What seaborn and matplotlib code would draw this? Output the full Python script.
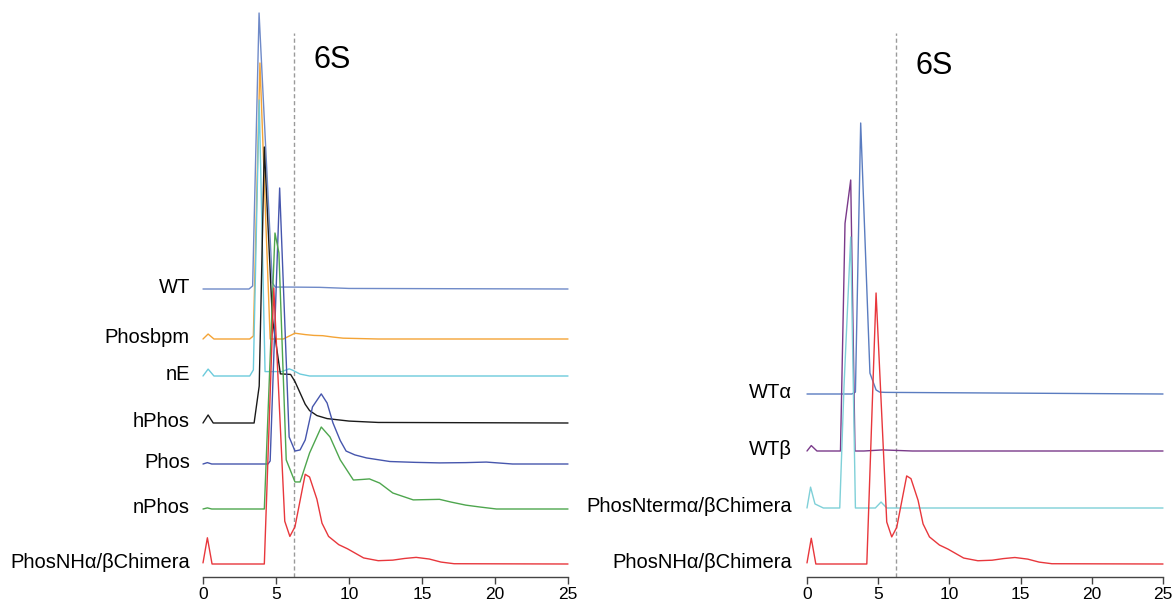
import numpy as np
import pandas as pd
import matplotlib
matplotlib.use("Agg")
import matplotlib.pyplot as plt
import seaborn as sns

# ---------------- data (normalised traces, peak = 1) ----------------
left_names = ["WT", "Phosbpm", "nE", "hPhos", "Phos", "nPhos", "PhosNHα/βChimera"]
right_names = ["WTα", "WTβ", "PhosNtermα/βChimera", "PhosNHα/βChimera"]

wt_x = [0, 3.15, 3.4, 3.84, 4.75, 4.95, 6, 8, 10, 25]
wt_y = [0, 0, 0.011, 1, 0.022, 0.007, 0.007, 0.006, 0.002, 0]

phosbpm_x = [0, 0.35, 0.75, 3.2, 3.45, 3.9, 4.6, 5.5, 6.3, 7.0, 7.6, 8.2, 8.9, 9.6, 12, 25]
phosbpm_y = [0, 0.018, 0, 0, 0.011, 1, 0, 0, 0.021, 0.016, 0.013, 0.012, 0.007, 0.003, 0, 0]

ne_x = [0, 0.35, 0.75, 3.2, 3.45, 3.85, 4.25, 4.6, 5.4, 5.9, 6.1, 6.65, 7.3, 25]
ne_y = [0, 0.025, 0, 0, 0.022, 1, 0.016, 0.016, 0.016, 0.026, 0.022, 0.007, 0, 0]

hphos_x = [0, 0.35, 0.7, 3.5, 3.85, 4.2, 4.75, 5.3, 6.0, 6.3, 6.65, 7.0, 7.3, 7.8,
           8.5, 10, 12, 25]
hphos_y = [0, 0.029, 0, 0, 0.134, 1, 0.38, 0.178, 0.176, 0.15, 0.109, 0.068, 0.045,
           0.027, 0.016, 0.007, 0.002, 0]

phos_x = [0, 0.3, 0.6, 4.45, 4.6, 5.25, 5.9, 6.3, 6.65, 7.0, 7.5, 8.1, 8.5, 8.9, 9.4,
          9.8, 10.4, 11.2, 12.8, 14.5, 16.2, 18.0, 19.4, 21.2, 25]
phos_y = [0, 0.005, 0, 0, 0.011, 1, 0.098, 0.047, 0.051, 0.087, 0.207, 0.254, 0.221,
          0.149, 0.085, 0.047, 0.033, 0.022, 0.009, 0.006, 0.004, 0.005, 0.007, 0, 0]

nphos_x = [0, 0.3, 0.6, 4.2, 4.93, 5.2, 5.7, 6.3, 6.65, 7.3, 8.1, 8.7, 9.4, 10.3, 10.9,
           11.4, 12.1, 13.0, 14.4, 15.3, 16.2, 17.0, 18.0, 19.0, 20.1, 25]
nphos_y = [0, 0.004, 0, 0, 1, 0.928, 0.178, 0.098, 0.098, 0.203, 0.297, 0.261, 0.178,
           0.105, 0.107, 0.109, 0.094, 0.058, 0.033, 0.034, 0.035, 0.025, 0.014, 0.007,
           0, 0]

chim_x = [0, 0.3, 0.62, 4.2, 4.85, 5.6, 5.95, 6.3, 7.0, 7.3, 7.8, 8.15, 8.6, 9.3, 9.9,
          11.0, 12.0, 13.0, 13.8, 14.6, 15.5, 16.3, 17.2, 25]
chim_y = [0.004, 0.095, 0, 0, 1, 0.155, 0.1, 0.135, 0.325, 0.315, 0.235, 0.148, 0.1,
          0.07, 0.055, 0.022, 0.012, 0.014, 0.02, 0.024, 0.018, 0.007, 0.001, 0]

wta_x = [0, 3.15, 3.4, 3.77, 4.42, 4.85, 5.1, 5.5, 25]
wta_y = [0, 0, 0.007, 1, 0.077, 0.015, 0.007, 0.006, 0]

wtb_x = [0, 0.3, 0.7, 2.35, 2.67, 3.07, 3.37, 4.0, 5.3, 7.4, 25]
wtb_y = [0, 0.02, 0, 0, 0.84, 1, 0, 0, 0.004, 0, 0]

nterm_x = [0, 0.25, 0.56, 1.15, 2.3, 2.6, 3.07, 3.4, 4.8, 5.2, 5.6, 25]
nterm_y = [0, 0.077, 0.015, 0, 0, 0.45, 1, 0, 0, 0.022, 0, 0]

ticks = [0, 5, 10, 15, 20, 25]
marker_6s = 6.25

# ---------------- style ----------------
sns.set_style("white")
plt.rcParams["font.family"] = ["Liberation Sans", "DejaVu Sans"]

W, H = 1174, 604
fig = plt.figure(figsize=(W / 100, H / 100), dpi=100)

def make_ax(x0px, x25px, bottom_px=577, top_px=5):
    upx = (x25px - x0px) / 25.0
    left = x0px - 0.3 * upx
    right = x25px + 0.3 * upx
    ax = fig.add_axes([left / W, (H - bottom_px) / H, (right - left) / W,
                       (bottom_px - top_px) / H])
    ax.set_xlim(-0.3, 25.3)
    ax.set_ylim(0, bottom_px - top_px)
    for s in ["top", "right", "left"]:
        ax.spines[s].set_visible(False)
    ax.spines["bottom"].set_bounds(0, 25)
    ax.spines["bottom"].set_color("#444444")
    ax.spines["bottom"].set_linewidth(1.0)
    ax.set_xticks(ticks)
    ax.set_xticklabels([str(t) for t in ticks])
    ax.tick_params(axis="x", direction="out", length=5, width=1.0, color="#444444",
                   labelsize=12.5, labelcolor="black", pad=2, bottom=True)
    ax.set_yticks([])
    ax.set_xlabel("")
    ax.set_ylabel("")
    return ax, upx

def draw(ax, xs, ys, base, scale, color):
    yy = np.asarray(ys) * scale + base
    sns.lineplot(x=xs, y=yy, ax=ax, color=color, linewidth=1.0, sort=False,
                 estimator=None)

# ---------------- left panel ----------------
axL, upxL = make_ax(203, 568)
left_traces = [
    (wt_x, wt_y, "#6f8ac8"),
    (phosbpm_x, phosbpm_y, "#f4a436"),
    (ne_x, ne_y, "#6ccbdc"),
    (hphos_x, hphos_y, "#1a1a1a"),
    (phos_x, phos_y, "#4656ad"),
    (nphos_x, nphos_y, "#4ea64e"),
    (chim_x, chim_y, "#e8373c"),
]
left_base_px = [289, 339, 376, 423, 464, 509, 564]
scaleL = 276
for (xs, ys, c), bpx, name in zip(left_traces, left_base_px, left_names):
    base = 577 - bpx
    draw(axL, xs, ys, base, scaleL, c)
    axL.text(-0.9, base + 1.5, name, ha="right", va="center", fontsize=14.5,
             color="black", clip_on=False)
axL.plot([marker_6s, marker_6s], [0, 577 - 33], color="#9a9a9a", lw=1.0,
         ls=(0, (3, 2)), zorder=0)
axL.text(7.6, 577 - 60, "6S", ha="left", va="center", fontsize=22, color="black")

# ---------------- right panel ----------------
axR, upxR = make_ax(807, 1163)
right_traces = [
    (wta_x, wta_y, "#5a7cc0"),
    (wtb_x, wtb_y, "#7a3a8a"),
    (nterm_x, nterm_y, "#7fd0d8"),
    (chim_x, chim_y, "#e8373c"),
]
right_base_px = [394, 451, 508, 564]
scaleR = 271
for (xs, ys, c), bpx, name in zip(right_traces, right_base_px, right_names):
    base = 577 - bpx
    draw(axR, xs, ys, base, scaleR, c)
    axR.text(-1.07, base + 1.5, name, ha="right", va="center", fontsize=14.5,
             color="black", clip_on=False)
axR.plot([marker_6s, marker_6s], [0, 577 - 33], color="#9a9a9a", lw=1.0,
         ls=(0, (3, 2)), zorder=0)
axR.text(7.6, 577 - 66, "6S", ha="left", va="center", fontsize=22, color="black")

fig.savefig("out.png", dpi=100, facecolor="white")
